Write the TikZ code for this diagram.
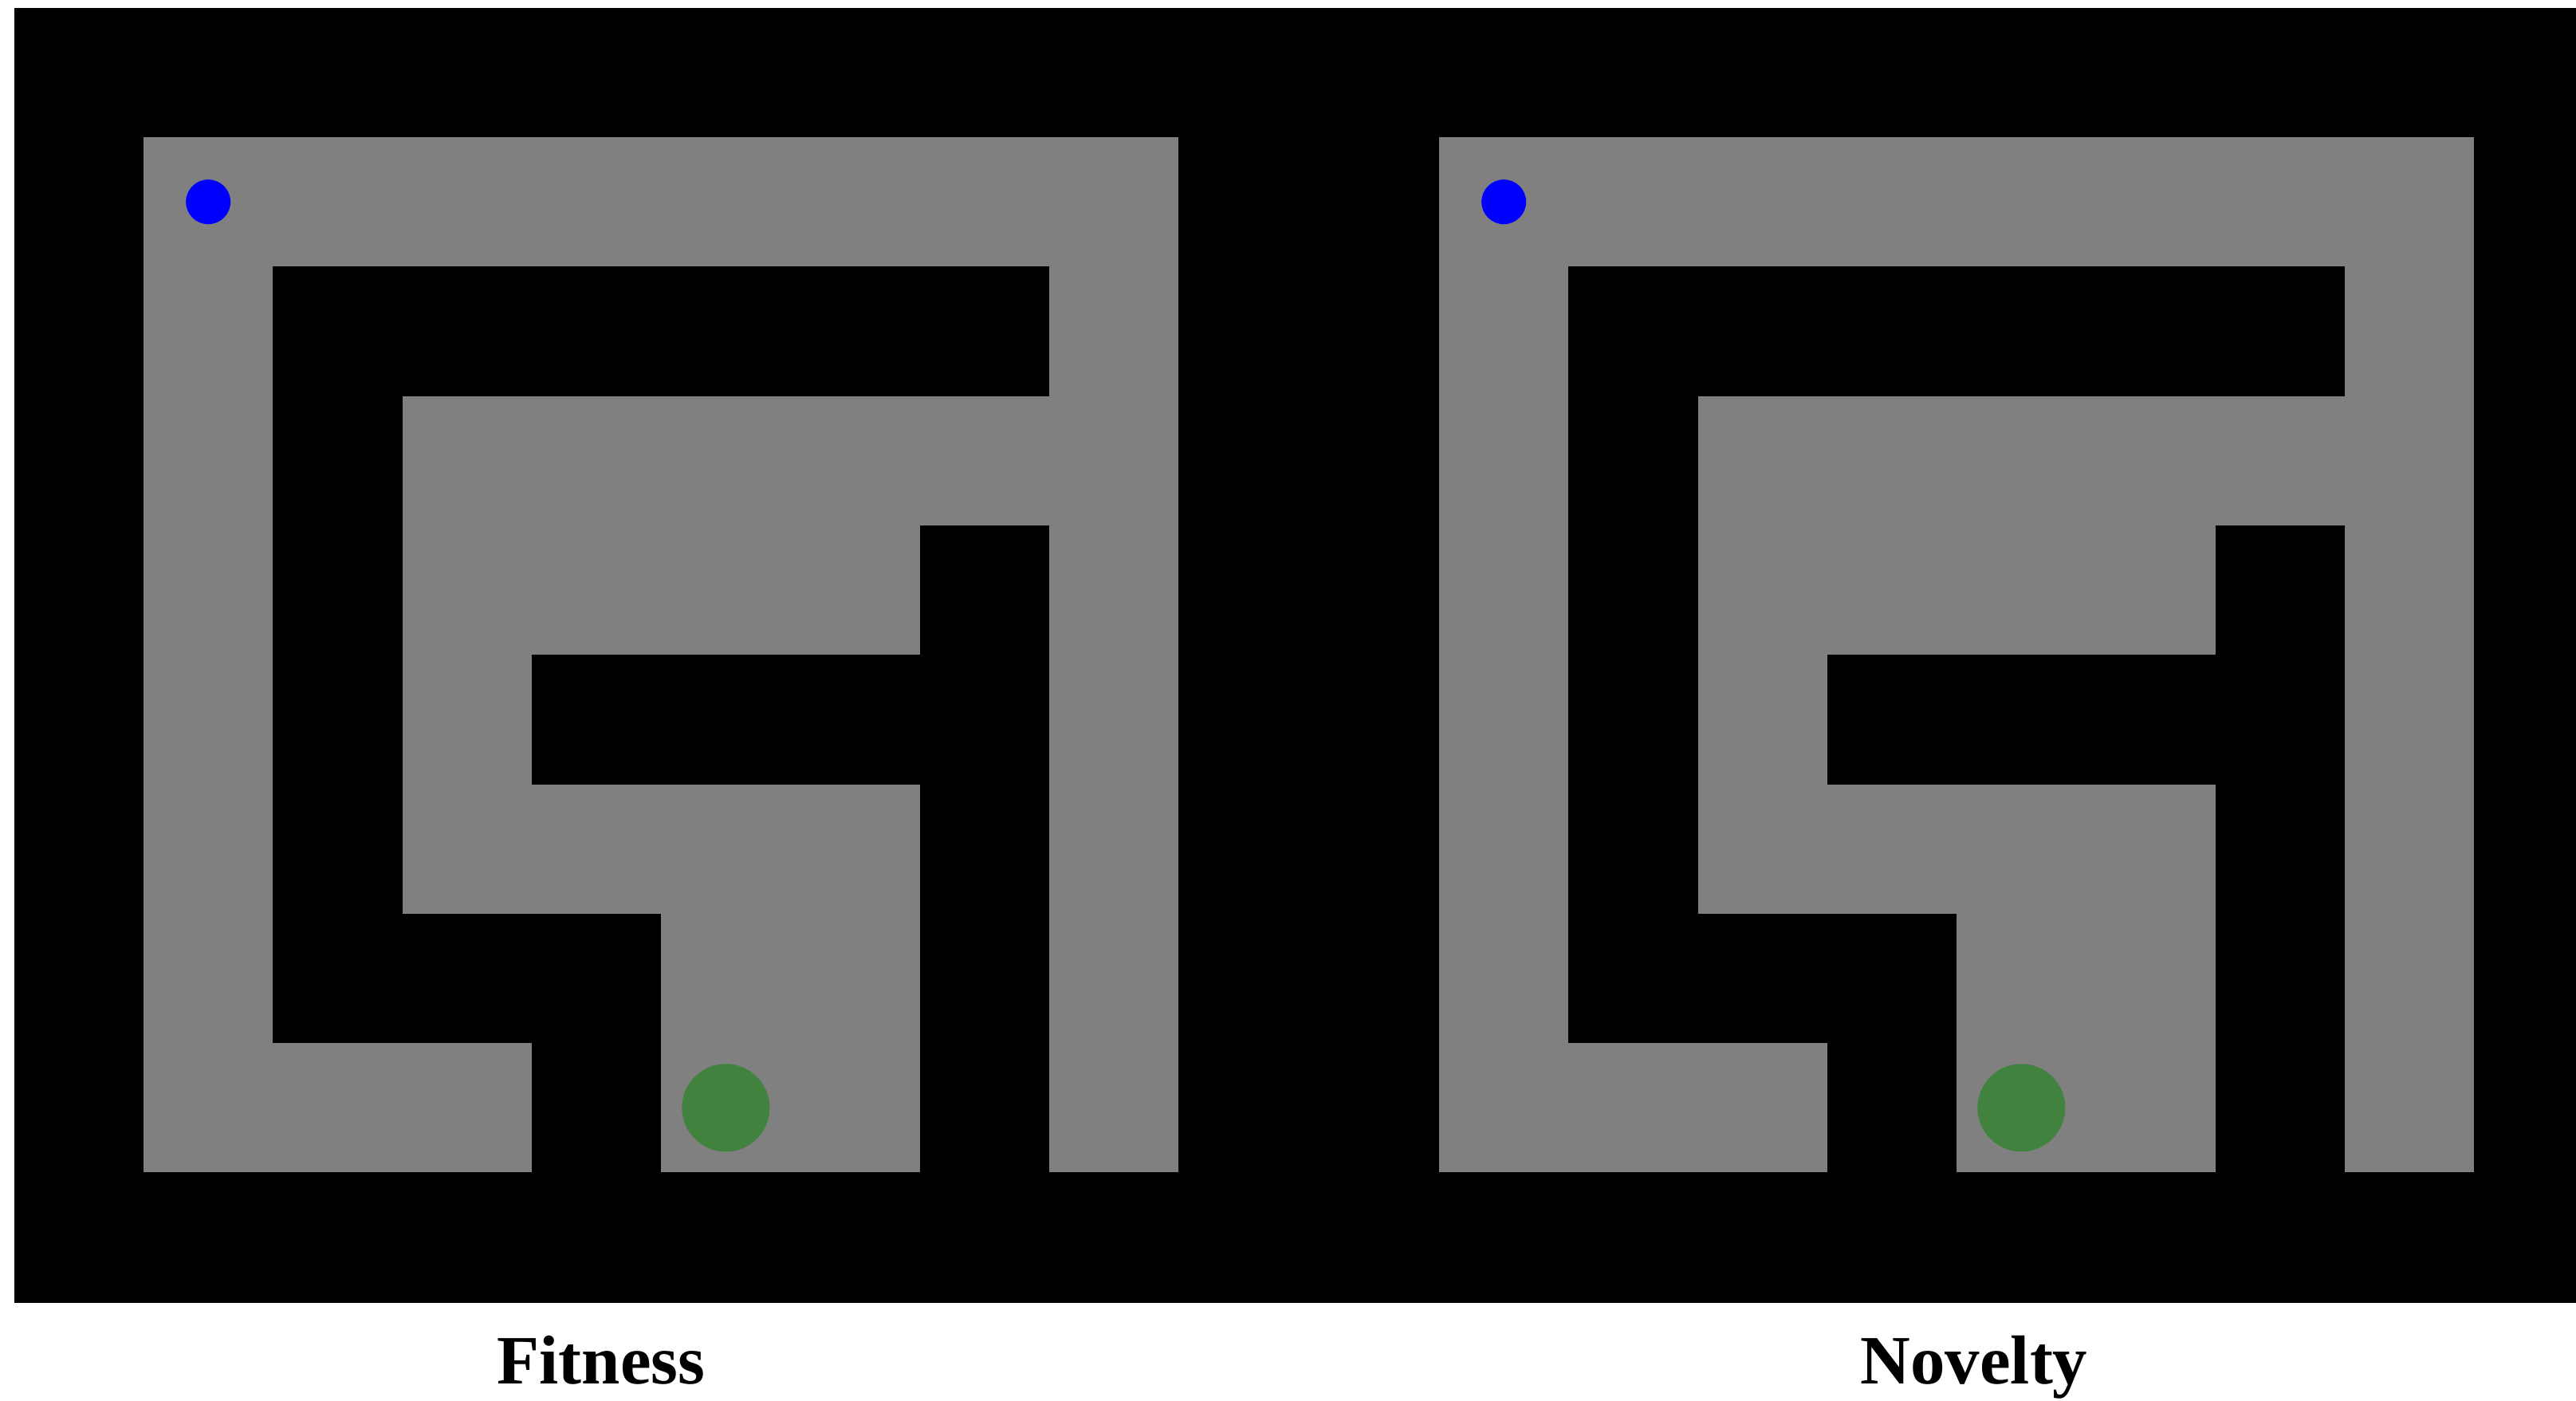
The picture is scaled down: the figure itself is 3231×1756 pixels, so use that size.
\documentclass[tikz,border=0pt]{standalone}
\usepackage{fontspec}
\setmainfont{Liberation Serif}
\definecolor{mazegray}{RGB}{128,128,128}
\definecolor{goalgreen}{RGB}{64,130,62}
\definecolor{startblue}{RGB}{0,0,255}
\begin{document}
\begin{tikzpicture}[
  x=0.01cm, y=-0.01cm,
  wall/.style={fill=black},
  floor/.style={fill=mazegray},
  start/.style={fill=startblue},
  goal/.style={fill=goalgreen},
  caption/.style={
    font=\fontsize{24.7}{30}\selectfont\bfseries,
    inner sep=0pt,
    anchor=base
  }
]
\useasboundingbox (0,0) rectangle (3231,1756);
\fill[white] (0,0) rectangle (3231,1756);
\fill[wall] (18,10) rectangle (3231,1634);

% two identical mazes, grid of 8x8 cells
\foreach \ox/\name/\txt/\tx in {180/fitness/Fitness/754, 1805/novelty/Novelty/2476} {
  \begin{scope}[shift={(\ox,172)}, scale=162.3]
    \fill[floor] (0,0) rectangle (8,8);
    \fill[wall] (1,1) rectangle (7,2);
    \fill[wall] (1,1) rectangle (2,7);
    \fill[wall] (1,6) rectangle (4,7);
    \fill[wall] (3,7) rectangle (4,8);
    \fill[wall] (3,4) rectangle (6,5);
    \fill[wall] (6,3) rectangle (7,8);
    \fill[start] (0.5,0.5) circle[radius=0.1725];
    \fill[goal] (4.5,7.5) circle[radius=0.339];
  \end{scope}
  \node[caption] (\name) at (\tx,1735) {\txt};
}
\end{tikzpicture}
\end{document}
